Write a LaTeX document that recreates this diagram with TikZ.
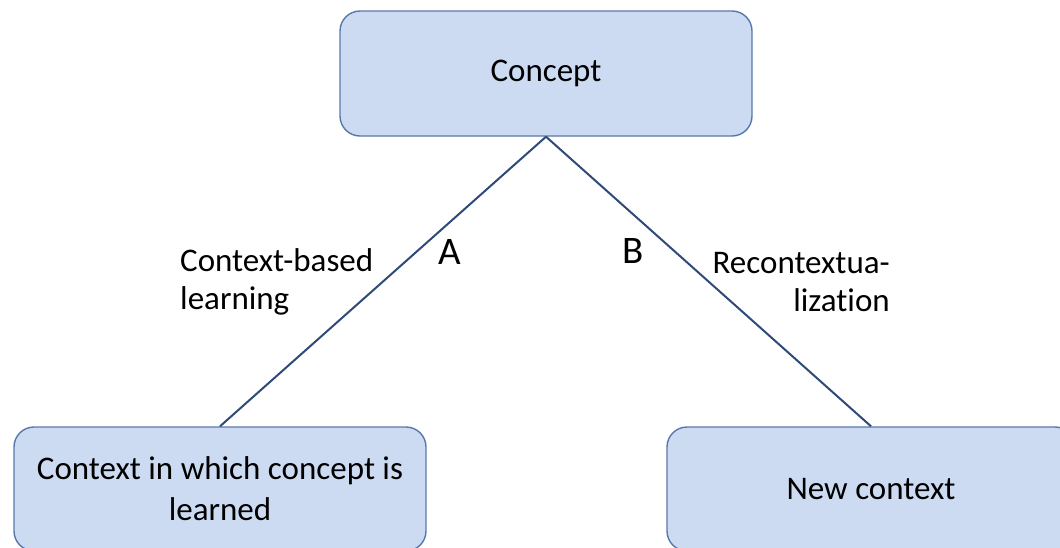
\documentclass[tikz,border=0pt]{standalone}
\usepackage{fontspec}
\setmainfont{Carlito}[RawFeature={-liga}]
\definecolor{boxfill}{HTML}{CCDBF1}
\definecolor{boxline}{HTML}{5878AC}
\definecolor{linkline}{HTML}{2D4A78}
\begin{document}
\begin{tikzpicture}[x=1pt,y=-1pt,
  box/.style={draw=boxline,fill=boxfill,line width=1.4pt,rounded corners=20pt,
    inner sep=0pt,align=center,font=\fontsize{33}{41}\selectfont},
  link/.style={draw=linkline,line width=2pt},
  lbl/.style={inner sep=0pt,font=\fontsize{33}{38}\selectfont},
  letter/.style={inner sep=0pt,font=\fontsize{39}{39}\selectfont}]
\useasboundingbox (0,0) rectangle (1060,547);
\clip (0,0) rectangle (1060,547);
\node[box,minimum width=412pt,minimum height=125pt] (top) at (546,73.5) {Concept};
\node[box,minimum width=412pt,minimum height=124pt] (left) at (220,489) {Context in which concept is\\learned};
\node[box,minimum width=408pt,minimum height=124pt] (right) at (871,489) {New context};
\draw[link] (top.south) -- (left.north);
\draw[link] (top.south) -- (right.north);
\node[lbl,align=left,anchor=west] (la) at (180,282) {Context-based\\learning};
\node[lbl,align=right,anchor=east] (lb) at (890,282) {Recontextua-\\lization};
\node[letter] (a) at (450,252) {A};
\node[letter] (b) at (633,251) {B};
\end{tikzpicture}
\end{document}
